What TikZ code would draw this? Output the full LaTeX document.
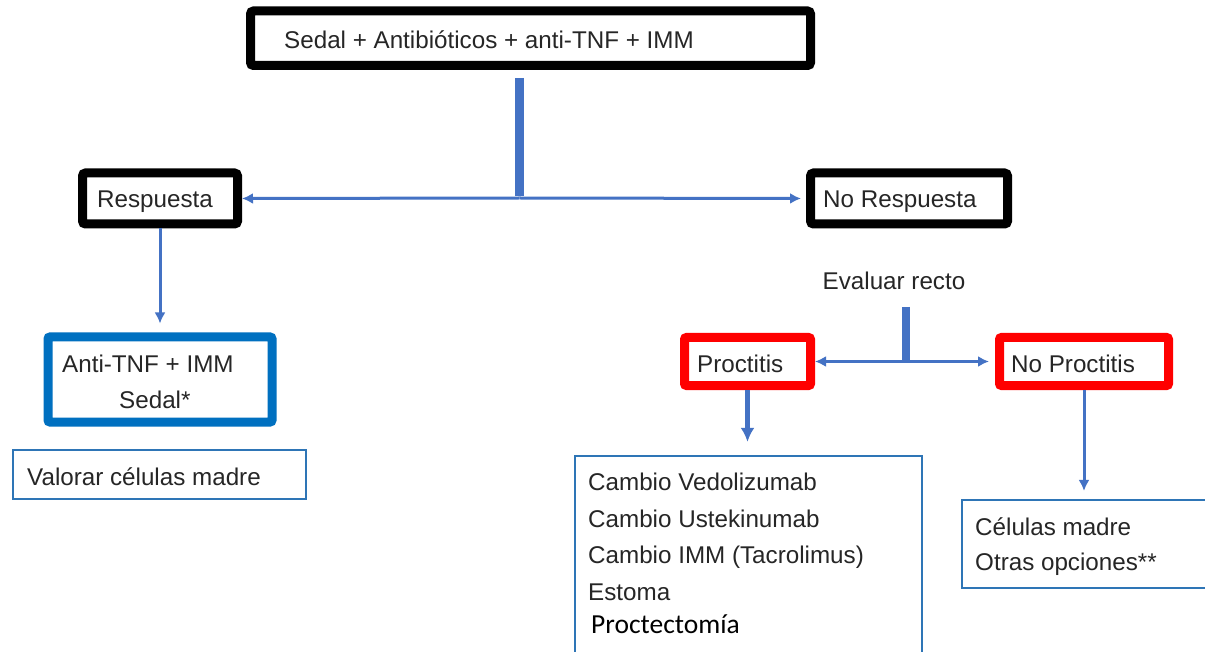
\documentclass[tikz,border=0pt]{standalone}
\usepackage{fontspec}
\setmainfont{Liberation Sans}
\newfontfamily\calibrifont{Carlito}
\usetikzlibrary{arrows.meta}
\definecolor{connblue}{HTML}{4472C4}
\definecolor{boxblue}{HTML}{0070C0}
\definecolor{thinblue}{HTML}{2E75B6}
\definecolor{boxred}{HTML}{FF0000}
\tikzset{
  boxbase/.style={rectangle, inner sep=0pt, fill=white},
  blackbox/.style={boxbase, draw=black, line width=9pt, rounded corners=3pt},
  redbox/.style={boxbase, draw=boxred, line width=9pt, rounded corners=2pt},
  bluethick/.style={boxbase, draw=boxblue, line width=9pt, rounded corners=2pt},
  bluethin/.style={boxbase, draw=thinblue, line width=2.2pt},
  txt/.style={anchor=base west, inner sep=0pt, font=\fontsize{24.2}{28}\selectfont, text=black!85},
  conn/.style={draw=connblue, line width=3pt, -{Latex[length=11pt,width=11pt]}},
  connthick/.style={draw=connblue, line width=4.5pt, -{Latex[length=14pt,width=14pt]}},
  stem/.style={draw=connblue, line width=8.5pt}
}
\begin{document}
\begin{tikzpicture}[x=1pt,y=-1pt]
\useasboundingbox (0,0) rectangle (1205,652);
\clip (0,0) rectangle (1205,652);
\fill[white] (0,0) rectangle (1205,652);

% boxes
\node[blackbox, minimum width=560pt, minimum height=54.5pt] (top) at (530.5,38.25) {};
\node[blackbox, minimum width=155pt, minimum height=51pt] (resp) at (160,198.5) {};
\node[blackbox, minimum width=197pt, minimum height=51pt] (nores) at (909,198.5) {};
\node[bluethick, minimum width=224pt, minimum height=85pt] (antitnf) at (160,379.5) {};
\node[bluethin, minimum width=293pt, minimum height=49pt] (valorar) at (159.5,474.5) {};
\node[redbox, minimum width=126pt, minimum height=48pt] (proc) at (747.5,361.5) {};
\node[redbox, minimum width=169pt, minimum height=48pt] (noproc) at (1084,361.5) {};
\node[bluethin, minimum width=347pt, minimum height=204pt] (list) at (748.5,558) {};
\node[bluethin, minimum width=253pt, minimum height=88pt] (rbox) at (1088.5,544) {};

% texts
\node[txt] (ttop) at (284,48.5) {Sedal + Antibióticos + anti-TNF + IMM};
\node[txt] (tresp) at (97,208) {Respuesta};
\node[txt] (tnores) at (823,208) {No Respuesta};
\node[txt] (tanti) at (62,372) {Anti-TNF + IMM};
\node[txt] (tsedal) at (119,408) {Sedal*};
\node[txt] (tval) at (27,485) {Valorar células madre};
\node[txt, anchor=base] (teval) at (894,290) {Evaluar recto};
\node[txt] (tproc) at (697,372) {Proctitis};
\node[txt] (tnoproc) at (1011,372) {No Proctitis};
\node[txt] (l1) at (588,490) {Cambio Vedolizumab};
\node[txt] (l2) at (588,527) {Cambio Ustekinumab};
\node[txt] (l3) at (588,563) {Cambio IMM (Tacrolimus)};
\node[txt] (l4) at (588,600) {Estoma};
\node[txt, font=\calibrifont\fontsize{27.5}{32}\selectfont, text=black] (l5) at (591,633) {Proctectomía};
\node[txt] (r1) at (975,535) {Células madre};
\node[txt] (r2) at (975,570) {Otras opciones**};

% connectors
\coordinate (stemtop) at (519.5,78);
\coordinate (stembot) at (519.5,198);
\draw[stem] (stemtop) -- ([yshift=1.5pt]stembot);
\draw[conn] (stembot) -- (resp.east);
\draw[conn, shorten >=5pt] (stembot) -- (nores.west);
\draw[conn, shorten >=9pt] (resp.south) -- (antitnf.north);

\coordinate (evtop) at (906,307);
\coordinate (evbot) at (906,361.5);
\draw[stem] (evtop) -- ([yshift=1.5pt]evbot);
\draw[conn] (evbot) -- (proc.east);
\draw[conn, shorten >=6pt] (evbot) -- (noproc.west);
\draw[connthick, shorten >=13pt] (proc.south) -- (proc.south |- list.north);
\draw[conn, shorten >=8pt] (noproc.south) -- (noproc.south |- rbox.north);
\end{tikzpicture}
\end{document}
